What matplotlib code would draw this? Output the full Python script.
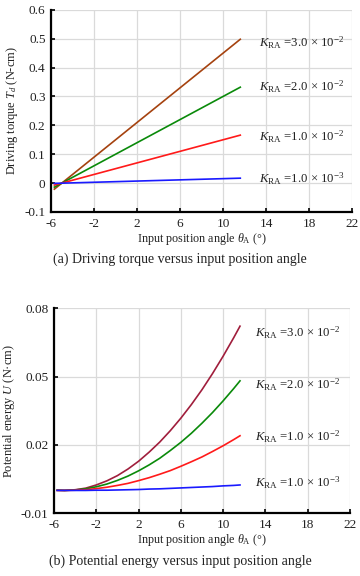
import matplotlib
matplotlib.use("Agg")
import matplotlib.pyplot as plt

plt.rcParams["font.family"] = ["Liberation Serif", "DejaVu Serif"]
plt.rcParams["mathtext.fontset"] = "custom"
plt.rcParams["mathtext.rm"] = "Liberation Serif"
plt.rcParams["mathtext.it"] = "Liberation Serif:italic"
plt.rcParams["axes.unicode_minus"] = False

# (a) driving torque, straight lines: start and end points
theta_a = [-5.7, 11.6]
torque = {
    "3.0": [-0.021, 0.498],
    "2.0": [-0.014, 0.332],
    "1.0": [-0.007, 0.166],
    "0.1": [-0.001, 0.017],
}

# (b) potential energy
theta_b = [-5.7, -5, -4, -3, -2, -1, 0, 1, 2, 3, 4, 5, 6, 7, 8, 9, 10, 11, 11.6]
energy = {
    "3.0": [0.0001, 0, 0.0003, 0.0010, 0.0024, 0.0042, 0.0065, 0.0094, 0.0128, 0.0168,
            0.0212, 0.0262, 0.0317, 0.0377, 0.0442, 0.0513, 0.0589, 0.0670, 0.0721],
    "2.0": [0.0001, 0, 0.0002, 0.0007, 0.0016, 0.0028, 0.0044, 0.0063, 0.0086, 0.0112,
            0.0141, 0.0175, 0.0211, 0.0251, 0.0295, 0.0342, 0.0393, 0.0447, 0.0481],
    "1.0": [0.0000, 0, 0.0001, 0.0003, 0.0008, 0.0014, 0.0022, 0.0031, 0.0043, 0.0056,
            0.0071, 0.0087, 0.0106, 0.0126, 0.0147, 0.0171, 0.0196, 0.0223, 0.0240],
    "0.1": [0, 0, 0, 0, 0.0001, 0.0001, 0.0002, 0.0003, 0.0004, 0.0006,
            0.0007, 0.0009, 0.0011, 0.0013, 0.0015, 0.0017, 0.0020, 0.0022, 0.0024],
}

labels = {
    "3.0": r"$K_{\mathrm{RA}}$ =3.0$\,\times\,$10$^{-2}$",
    "2.0": r"$K_{\mathrm{RA}}$ =2.0$\,\times\,$10$^{-2}$",
    "1.0": r"$K_{\mathrm{RA}}$ =1.0$\,\times\,$10$^{-2}$",
    "0.1": r"$K_{\mathrm{RA}}$ =1.0$\,\times\,$10$^{-3}$",
}
colors_a = {"3.0": "#A5420F", "2.0": "#0A8A0A", "1.0": "#FF1A1A", "0.1": "#1A1AFF"}
colors_b = {"3.0": "#A01E3C", "2.0": "#0A8A0A", "1.0": "#FF1A1A", "0.1": "#1A1AFF"}

label_y_a = {"3.0": 0.487, "2.0": 0.334, "1.0": 0.161, "0.1": 0.014}
label_y_b = {"3.0": 0.069, "2.0": 0.0462, "1.0": 0.0235, "0.1": 0.0032}

x_ticks = [-6, -2, 2, 6, 10, 14, 18, 22]
y_ticks_a = [-0.1, 0, 0.1, 0.2, 0.3, 0.4, 0.5, 0.6]
y_labels_a = ["-0.1", "0", "0.1", "0.2", "0.3", "0.4", "0.5", "0.6"]
y_ticks_b = [-0.01, 0.02, 0.05, 0.08]
y_labels_b = ["-0.01", "0.02", "0.05", "0.08"]

INK = "#222222"
GRID = "#DADADA"


def style(ax):
    ax.set_xlim(-6, 22)
    ax.set_xticks(x_ticks)
    ax.set_xticklabels([str(t) for t in x_ticks])
    ax.grid(True, color=GRID, linewidth=0.9)
    ax.set_axisbelow(True)
    for s in ("top", "right"):
        ax.spines[s].set_visible(False)
    for s in ("left", "bottom"):
        ax.spines[s].set_linewidth(1.6)
        ax.spines[s].set_color("black")
    ax.tick_params(direction="in", length=3, width=1.2, labelsize=9.5, colors="black",
                   labelcolor=INK, pad=4)
    ax.set_xlabel(r"Input position angle $\theta_{\mathrm{A}}$ (°)", fontsize=8.7, color=INK, labelpad=1)


fig = plt.figure(figsize=(3.6, 5.76), dpi=100)

ax1 = fig.add_axes([0.142, 0.632, 0.836, 0.351])
for key in torque:
    ax1.plot(theta_a, torque[key], color=colors_a[key], linewidth=1.2)
    ax1.text(13.3, label_y_a[key], labels[key], fontsize=9.2, va="center", color=INK)
style(ax1)
ax1.set_ylim(-0.1, 0.6)
ax1.set_yticks(y_ticks_a)
ax1.set_yticklabels(y_labels_a)
ax1.set_ylabel(r"Driving torque $T_d$ (N-cm)", fontsize=8.9, color=INK, labelpad=3)
fig.text(0.5, 1 - 259 / 576, "(a) Driving torque versus input position angle",
         ha="center", va="center", fontsize=10, color=INK)

ax2 = fig.add_axes([0.150, 0.109, 0.822, 0.356])
for key in energy:
    ax2.plot(theta_b, energy[key], color=colors_b[key], linewidth=1.2)
    ax2.text(13.0, label_y_b[key], labels[key], fontsize=9.2, va="center", color=INK)
style(ax2)
ax2.set_ylim(-0.01, 0.08)
ax2.set_yticks(y_ticks_b)
ax2.set_yticklabels(y_labels_b)
ax2.set_ylabel(r"Potential energy $U$ (N·cm)", fontsize=8.9, color=INK, labelpad=3)
fig.text(0.5, 1 - 561 / 576, "(b) Potential energy versus input position angle",
         ha="center", va="center", fontsize=10, color=INK)

fig.savefig("out.png", dpi=100)
